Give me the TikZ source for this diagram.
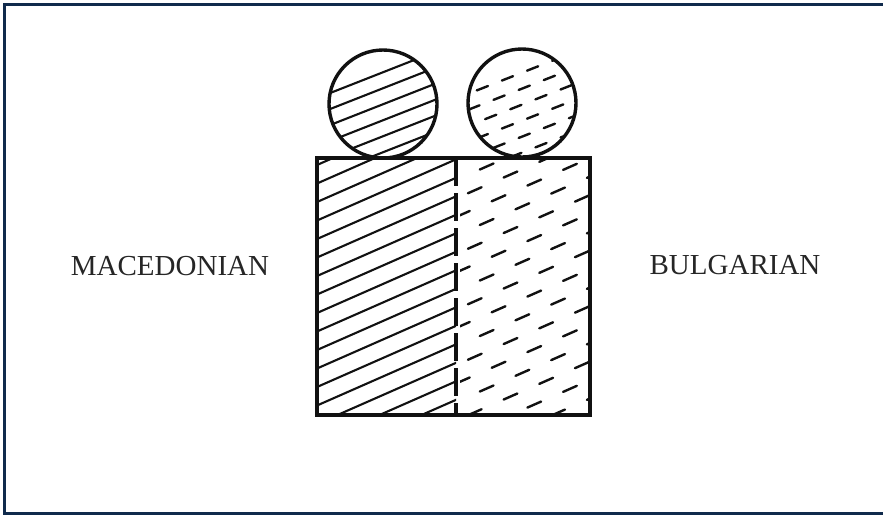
\documentclass[tikz,border=0pt]{standalone}
\usepackage{fontspec}
\setmainfont{Liberation Serif}
\definecolor{framecol}{HTML}{102A4C}
\definecolor{inkcol}{HTML}{111111}
\begin{document}
\begin{tikzpicture}[x=1pt,y=-1pt,
  outline/.style={draw=inkcol,line width=3.4pt},
  hatch/.style={draw=inkcol,line width=2.1pt,line cap=round},
  dhatch/.style={hatch,line width=2.4pt,dash pattern=on 15pt off 24pt},
  lbl/.style={font=\fontsize{29}{32}\selectfont,text=black!85,inner sep=0pt,anchor=base}]
\useasboundingbox (0,0) rectangle (883,515);
% frame
\draw[framecol,line width=3pt] (890,4) -- (4.5,4) -- (4.5,513) -- (890,513);
% left half hatching
\begin{scope}
\clip (317,158) rectangle (456,415);
\foreach \c in {165,183.5,...,500} \draw[hatch] (317,\c) -- ++(150,-66);
\end{scope}
% right half dashed hatching
\begin{scope}
\clip (460,160) rectangle (588,413);
\foreach \c [count=\i] in {180,198.5,...,490} \draw[dhatch,dash phase=\i*13pt] (456,\c) -- ++(150,-66);
\end{scope}
% left circle
\begin{scope}
\clip (383,104) circle (54);
\foreach \c in {97,113,...,230} \draw[hatch] (320,\c) -- ++(140,-55);
\end{scope}
\draw[outline] (383,104) circle (54);
% right circle
\begin{scope}
\clip (522,103) circle (54);
\foreach \c [count=\i] in {97,113,...,230} \draw[dhatch,dash pattern=on 12pt off 15pt,dash phase=\i*9pt] (460,\c) -- ++(140,-55);
\end{scope}
\draw[outline] (522,103) circle (54);
% square
\draw[outline] (315,158) -- (590,158) -- (590,415) -- (317,415) -- (317,158);
\coordinate (dtop) at (456,158);
\coordinate (dbot) at (456,415);
\draw[inkcol,line width=3.2pt,dash pattern=on 28pt off 7pt] (dtop) -- (dbot);
% labels
\node[lbl] (mac) at (170,275) {MACEDONIAN};
\node[lbl] (bul) at (735,274) {BULGARIAN};
\end{tikzpicture}
\end{document}
